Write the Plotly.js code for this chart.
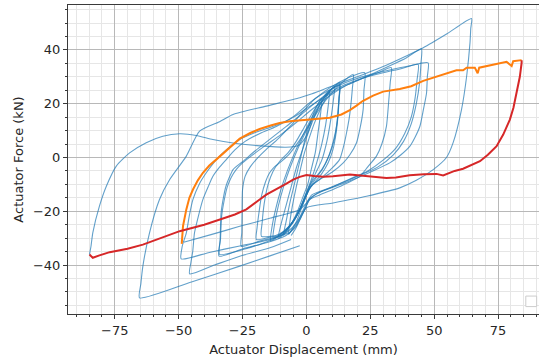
<!DOCTYPE html>
<html>
<head>
<meta charset="utf-8">
<script src="https://cdn.plot.ly/plotly-3.0.1.min.js"></script>
<style>html,body{margin:0;padding:0;background:#fff}#chart{width:539px;height:362px}</style>
</head>
<body>
<div id="chart"></div>
<script>
// ---- Data (Actuator Displacement mm, Actuator Force kN) ----
const xTickVals = [-75, -50, -25, 0, 25, 50, 75];
const yTickVals = [-40, -20, 0, 20, 40];

// blue hysteresis cycles
const cycA_x = [-84.9,-84.3,-83.6,-81,-78.3,-74.4,-69.2,-62.7,-56.2,-49.6,-43.1,-36.6,-27.4,-18,-8,-3,0,2];
const cycA_y = [-36.1,-33,-28,-18.1,-10.7,-3.2,1.7,5.5,7.9,8.8,8.2,6.7,5.2,4.3,3.8,4.5,8,13];

const cycB_x = [-2.6,-14,-26.1,-45,-65.3,-64.8,-64,-61.4,-57.5,-53.5,-47,-41.8,-34,-28.7,-15.7,-2.6,1.3,8,15,22,30,38,45.7,55,64.6,64.3,64,62.7,60.7,57.4,54.8,49.6,43,36.5,23.5,10.4,0,-2,-4,-6];
const cycB_y = [-32.8,-36.5,-40.4,-46.3,-52.2,-47,-40.4,-28,-15.6,-8.2,0.5,9.8,13.3,16,19.1,22.2,23.4,25.8,28.3,30.8,33.8,37.3,40.8,46,51.7,48,42.7,30.3,17.9,5.5,0,-4.5,-8.5,-11.3,-14.4,-16.9,-18.7,-22,-26,-29];

const cycC_x = [-6,-14,-26.1,-36,-45.7,-45.2,-44.5,-43.8,-42.2,-40.5,-38.5,-36.6,-34,-31.3,-28,-24,-18,-11.8,-5,1.3,6,12,18,25,33,40,47.6,47.3,47,45.8,44.4,42.5,40.5,37,32.6,26,20,12,5,1,-1.5,-4,-7];
const cycC_y = [-30.5,-33.5,-36.7,-40,-43.3,-39,-35,-28,-21.5,-15.6,-11,-7,-3.6,-0.7,2.8,6,9,11.5,15.3,20.4,23.5,26.5,28.8,30.8,32.6,34,35.2,30,24,18,11.6,7.5,4.2,1,-2,-5,-7.5,-10.5,-13,-15.5,-20,-25,-28.5];

const cycD_x = [-7,-14,-26.1,-38,-49,-48.6,-47,-45.8,-44.4,-42,-39.2,-36,-32.7,-29.5,-26.1,-20,-11.8,-5,1.3,8,16,24,32,39,45,44.8,44.3,43,41,38,34,28,20,10,2,0,-3,-14,-26.1,-37,-48.4];
const cycD_y = [-28,-30.5,-32.9,-35.3,-37.7,-33,-28,-21.5,-15.6,-10,-5.7,-1.6,1.7,4.3,6.7,9.3,12,15,19,23,27,30.3,33.8,37,40.4,35,28,20,12.5,6,1,-3.5,-7,-11,-14,-17,-19.5,-22.5,-25.6,-28.6,-31.6];

const cycE_x = [-8,-15,-25,-34.2,-33.8,-33.4,-32.5,-31.5,-30,-28.7,-26,-24.8,-20,-14,-8,-2,3,8,15,22,30,37,43.7,43.3,42.5,41,38.5,35,30,24,17,10,4,1,-1.5,-4,-8];
const cycE_y = [-29,-31.5,-34,-36.7,-31,-20.6,-15,-10.7,-7,-4.5,-2.3,-1.4,2.5,7,11.5,16,20,23.5,27,29.5,31.5,33,34.6,29,22,15,9,3.5,-1,-5,-8,-11,-13.5,-16,-21,-25.5,-29];

const cycF_x = [-9,-16,-24,-34,-33.6,-33.2,-32.2,-31,-29.5,-27.5,-25,-21,-16,-10,-4,1,5,10,16,22,28,33.2,32.8,32.2,31.3,29.5,27.4,24,20.9,16,10.4,5,1.3,-0.5,-3,-6,-9];
const cycF_y = [-28.5,-31.5,-34,-36,-30,-22,-16,-11,-7.5,-4.5,-2,1,4.5,8.5,13,17,20,23.5,27,29.5,31.5,33.4,28,21,11.6,5,0.5,-3.5,-7,-9.5,-11.9,-14,-15.6,-19,-23,-26.5,-28.5];

const cycG_x = [-10,-18,-25.5,-25.3,-25.2,-25,-24,-22,-19.6,-15.7,-11,-6,-1,3,7,11,16,22.8,22.5,22.2,21,19.6,17,14.4,10,5.2,2,0,-2.5,-5.5,-10];
const cycG_y = [-29,-31,-33,-28,-20,-12,-7,-3.5,-0.7,3,7,12,17.5,21.5,24.5,27,29.5,31.5,25,17.9,11,5.5,1,-2,-5.5,-8.2,-10.5,-13.5,-19,-24.5,-29];

const cycH_x = [-11,-15,-19.6,-19.3,-18.5,-17.6,-16,-14.4,-12.5,-10.5,-7,-3,1,5,9,13,18.3,18,17.6,16.8,15.7,14.5,13,10,6,2,0,-2.5,-6,-11];
const cycH_y = [-29,-29.8,-30.5,-26,-20,-14.4,-9,-5.7,-3.5,-2,1,6,12,18,23,27,30.9,26,21.6,15,9.2,4,-0.7,-4,-7.5,-10.5,-14,-19.5,-25,-29];

const cycI_x = [-12,-17.6,-17.3,-16.5,-15,-13,-10.5,-7,-4,-1,2,5,8,11,13,12.8,12.4,11.6,10.4,8.5,6,3,1,-1.5,-5,-9,-12];
const cycI_y = [-29,-29.3,-24,-17,-10,-5,-1.5,2,6,11,16,20.5,24,26.3,27,22,16,9,3,-2,-6,-9.5,-12,-17.5,-23.5,-27.5,-29];

const cycJ_x = [-13,-12.5,-11,-9,-6.5,-3.5,0,3.5,7,10,13,12.6,12,10.5,8.5,6,3,1,-1,-4,-8,-13];
const cycJ_y = [-30,-25,-18,-11,-4,3,10,16.5,22,25.5,27,20,13,6,0,-4.5,-8,-11,-15.5,-22,-27,-30];

const cycK_x = [-11,-10,-8,-6,-4,-1.5,1,3.5,6,9,8.5,7.5,6,4,2,0,-2.5,-5.5,-8.5,-11];
const cycK_y = [-30,-25,-18,-11,-4,3,10,16,21,25,19,12,5,-2,-8,-13,-19,-24,-28,-30];

const cycL_x = [-9,-8,-6.5,-5,-3.5,-2,-0.5,1.5,3.5,6,5.5,4.5,3.5,2,0.5,-1.5,-3.5,-6,-9];
const cycL_y = [-29,-24,-17,-11,-5,1,7,13,18,22,16,9,2,-4,-10,-15,-20,-25,-29];

const cycM_x = [-7,-6.5,-5.5,-4,-2.5,-1,1,3,5,7,9,11,10.5,9.5,8,6,3.5,1.5,0,-2,-4,-7];
const cycM_y = [-28.5,-24,-18,-11,-5,1,7,12.5,17,21,24.5,26.5,21,14,6,-1,-6,-10,-14,-19,-24,-28.5];

const cycN_x = [-14,-13.5,-12,-10,-7.5,-4.5,-1,2.5,6,9.5,13,12.7,12.2,11,9,6.5,3.5,1.5,-0.5,-3.5,-7.5,-14];
const cycN_y = [-31,-26,-19,-12,-5,2,9,15.5,21,25,28,22,15,7,1,-4,-8,-11,-15,-21,-26.5,-31];

// last cycle: loading branch (orange) and unloading branch (red)
const loadX = [-48.8,-48.6,-48.3,-47,-45.8,-44.4,-42.5,-40.5,-38,-35.2,-32.5,-30,-26.1,-22,-18.3,-14,-10.5,-6.5,-2.6,3,9.1,13.7,17,19.6,22,26.1,30,36.5,41,45.7,50,54,58.7,61.3,62.7,65.9,67,67.6,72,78.3,80.3,80.9,84.2];
const loadY = [-32.1,-29,-25.5,-19.3,-15,-11.9,-8.5,-5.7,-3,-0.7,1.6,3.6,7,9.1,10.6,11.9,12.8,13.5,13.8,14.2,14.8,16,17.6,19.3,21,23,24.5,25.5,26.5,28.5,29.7,30.8,32.4,32.4,33.4,33.4,31.3,33.4,34.3,35.6,34,35.8,36.2];

const unloadX = [84.2,84.2,83.5,82.3,81,79.6,77,74.4,71,67.9,64.5,61.3,58,56.2,53.5,50.9,46,40.4,35,31.3,27,22,17,10.4,6.5,3,0,-2.6,-5.2,-8,-11.8,-15.7,-18.3,-23.5,-28,-34,-40,-49.6,-57,-64,-70,-77,-81,-83.6,-84.9];
const unloadY = [36.2,35.2,30,24.1,18.5,14.1,8.5,4.2,1,-1.4,-3,-4.2,-5,-5.7,-6.7,-6.1,-6.2,-6.6,-7.4,-7.6,-7.2,-7,-6.3,-7,-7.2,-6.9,-6.5,-7.2,-8.2,-9.8,-11.9,-13.8,-15.6,-19.3,-21.2,-23.1,-25,-27.4,-30,-32.4,-33.9,-35.2,-36.4,-37.3,-36.1];

const blueCycles = [
  [cycA_x, cycA_y], [cycB_x, cycB_y], [cycC_x, cycC_y], [cycD_x, cycD_y],
  [cycE_x, cycE_y], [cycF_x, cycF_y], [cycG_x, cycG_y], [cycH_x, cycH_y],
  [cycI_x, cycI_y], [cycJ_x, cycJ_y], [cycK_x, cycK_y], [cycL_x, cycL_y],
  [cycM_x, cycM_y], [cycN_x, cycN_y]
];

const traces = blueCycles.map(c => ({
  x: c[0], y: c[1], type: 'scatter', mode: 'lines',
  line: {color: '#1f77b4', width: 1.1, shape: 'spline', smoothing: 0.6},
  opacity: 0.7, showlegend: false, hoverinfo: 'skip'
}));
traces.push({x: loadX, y: loadY, type: 'scatter', mode: 'lines',
  line: {color: '#ff7f0e', width: 2}, showlegend: false});
traces.push({x: unloadX, y: unloadY, type: 'scatter', mode: 'lines',
  line: {color: '#d62728', width: 2}, showlegend: false});

const axisCommon = {
  showline: true, linecolor: '#3a3a3a', linewidth: 1,
  ticks: 'outside', ticklen: 4, tickwidth: 1, tickcolor: '#3a3a3a',
  showgrid: true, gridcolor: '#b8b8b8', gridwidth: 1,
  zeroline: false,
  tickfont: {family: 'DejaVu Sans', size: 13, color: '#262626'},
  minor: {dtick: 5, showgrid: true, gridcolor: '#e6e6e6', gridwidth: 1,
          ticks: 'outside', ticklen: 2, tickcolor: '#3a3a3a'}
};

const layout = {
  width: 539, height: 362,
  margin: {l: 68, r: 0, t: 5, b: 48, pad: 0},
  paper_bgcolor: '#ffffff', plot_bgcolor: '#ffffff',
  showlegend: false,
  xaxis: Object.assign({}, axisCommon, {
    range: [-93.3, 91.0], tickmode: 'array', tickvals: xTickVals,
    mirror: true,
    title: {text: 'Actuator Displacement (mm)', standoff: 8,
            font: {family: 'DejaVu Sans', size: 13, color: '#262626'}}
  }),
  yaxis: Object.assign({}, axisCommon, {
    range: [-58.2, 56.7], tickmode: 'array', tickvals: yTickVals,
    title: {text: 'Actuator Force (kN)', standoff: 6,
            font: {family: 'DejaVu Sans', size: 13, color: '#262626'}}
  }),
  shapes: [{
    type: 'rect', xref: 'paper', yref: 'paper',
    x0: 0.972, x1: 0.995, y0: 0.024, y1: 0.058,
    line: {color: '#cccccc', width: 1}, fillcolor: '#ffffff'
  }]
};

Plotly.newPlot('chart', traces, layout, {staticPlot: true, displayModeBar: false});
</script>
</body>
</html>
